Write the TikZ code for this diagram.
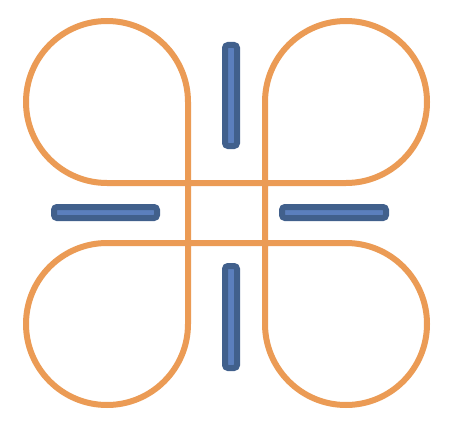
\documentclass[tikz,border=0pt]{standalone}
\usepackage{tikz}
\usepackage{xcolor}
\definecolor{petalorange}{HTML}{EB9B55}
\definecolor{bardark}{HTML}{41608C}
\definecolor{barlight}{HTML}{5B7FBD}

\begin{document}
\begin{tikzpicture}[
        x=1pt, y=1pt,
        petal/.style={draw=petalorange, line width=6pt, line join=round},
        bar/.style={draw=bardark, fill=barlight, line width=6pt, rounded corners=3pt},
      ]
      \useasboundingbox (0,0) rectangle (452,424);

      % === Petal curve (one closed stroke) ===
      \coordinate (tlR) at (188,322);
      \coordinate (trB) at (346,241);
      \coordinate (brL) at (265,100);
      \coordinate (blT) at (107,181);

      \draw[petal] (tlR) arc[start angle=0, end angle=270, radius=81]
        -- (trB) arc[start angle=-90, end angle=180, radius=81]
        -- (brL) arc[start angle=180, end angle=450, radius=81]
        -- (blT) arc[start angle=90, end angle=360, radius=81]
        -- cycle;

      % === Bars ===
      \draw[bar] (225,278) rectangle (237,379);
      \draw[bar] (225,56) rectangle (237,158);
      \draw[bar] (54,206) rectangle (157,217);
      \draw[bar] (282,206) rectangle (386,217);

      \end{tikzpicture}
\end{document}
